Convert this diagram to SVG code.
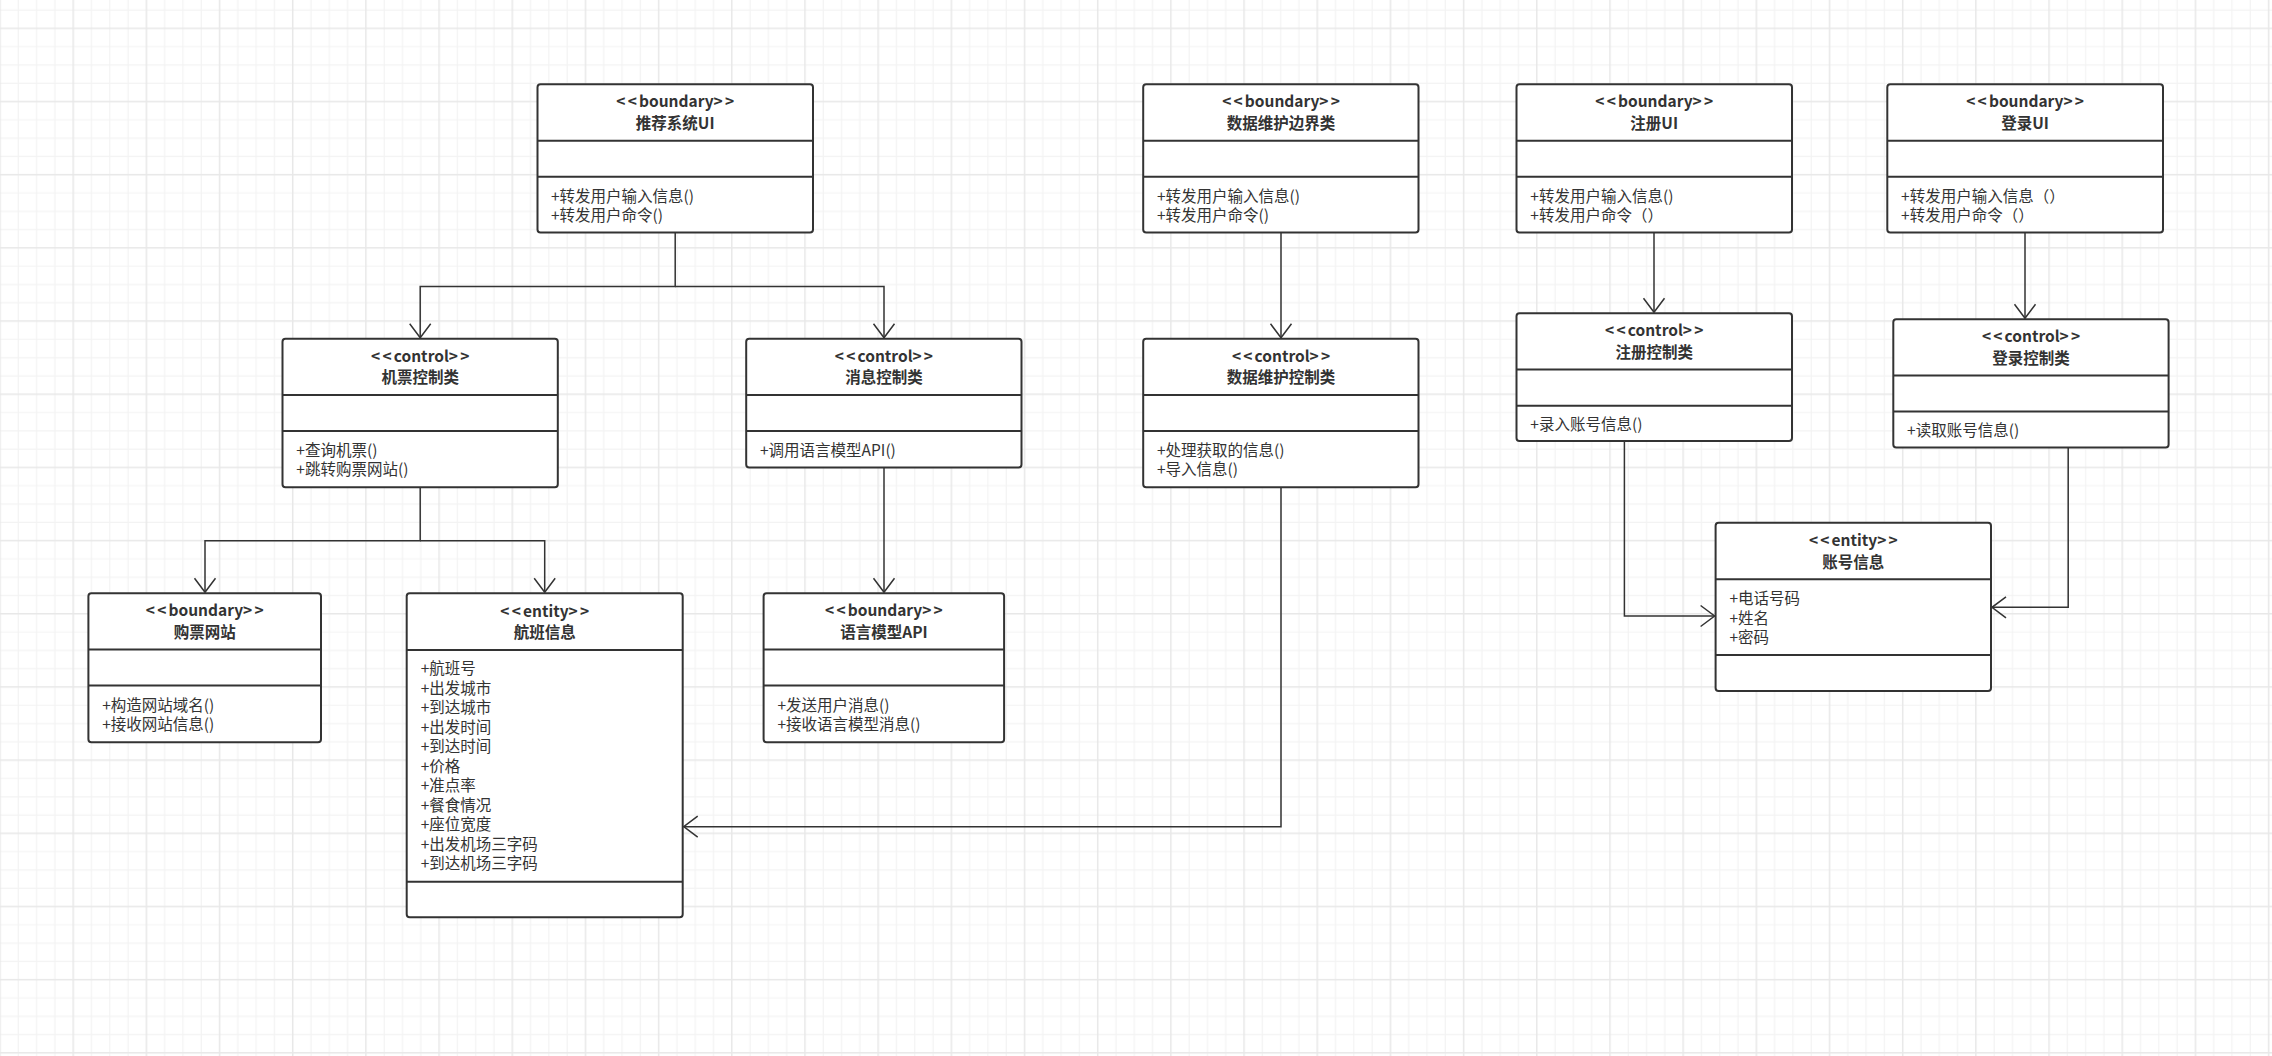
<svg xmlns="http://www.w3.org/2000/svg" width="2272" height="1056" viewBox="0 0 2272 1056">
<defs>
<pattern id="grid" width="73.18" height="73.18" patternUnits="userSpaceOnUse" x="-0.75" y="27.55">
<path d="M19.05,0V73.18M37.35,0V73.18M55.65,0V73.18M0,19.05H73.18M0,37.35H73.18M0,55.65H73.18" stroke="#f3f3f3" stroke-width="1.2" fill="none"/>
<path d="M0.75,0V73.18M0,0.75H73.18" stroke="#e8e8e8" stroke-width="1.5" fill="none"/>
</pattern>
<marker id="open" viewBox="0 0 16 24" refX="15" refY="12" markerWidth="16" markerHeight="24" markerUnits="userSpaceOnUse" orient="auto">
<path d="M1,1.5L15,12L1,22.5" fill="none" stroke="#333" stroke-width="1.5"/>
</marker>
</defs>
<style>
.box{fill:#fff;stroke:#333;stroke-width:2}
.div{stroke:#333;stroke-width:2}
.conn{fill:none;stroke:#333;stroke-width:1.5}
.arr{marker-end:url(#open)}
text{font-family:"Noto Sans CJK SC","Microsoft YaHei",sans-serif;font-size:15.5px;fill:#333}
.st{font-weight:700;text-anchor:middle}
.br{letter-spacing:2.2px}
</style>
<rect width="2272" height="1056" fill="#fff"/>
<rect width="2272" height="1056" fill="url(#grid)"/>

<g id="connectors">
<path class="conn arr" d="M675.2,232.5V286.5H420.2V337.8"/>
<path class="conn arr" d="M675.2,286.5H884V337.8"/>
<path class="conn arr" d="M420.2,487.3V540.8H205V592.3"/>
<path class="conn arr" d="M420.2,540.8H544.7V592.3"/>
<path class="conn arr" d="M884,467.4V592.3"/>
<path class="conn arr" d="M1281,232.5V337.8"/>
<path class="conn arr" d="M1281,487.3V826.7H683.7"/>
<path class="conn arr" d="M1654,232.5V312.3"/>
<path class="conn arr" d="M2025,232.5V318.3"/>
<path class="conn arr" d="M1624.4,441V616H1714.6"/>
<path class="conn arr" d="M2068.2,447.5V607.3H1992"/>
</g>

<g id="n-recommend-ui">
<rect class="box" x="537.5" y="84.3" width="275.5" height="148.2" rx="3"/>
<line class="div" x1="537.5" y1="140.7" x2="813" y2="140.7"/>
<line class="div" x1="537.5" y1="176.7" x2="813" y2="176.7"/>
<text class="st" x="676.3" y="107.3"><tspan class="br">&lt;&lt;</tspan>boundary<tspan class="br">&gt;&gt;</tspan></text>
<text class="st" x="675.2" y="128.8">推荐系统UI</text>
<text x="551" y="201.5">+转发用户输入信息()</text>
<text x="551" y="220.5">+转发用户命令()</text>
</g>

<g id="n-data-ui">
<rect class="box" x="1143.2" y="84.3" width="275.3" height="148.2" rx="3"/>
<line class="div" x1="1143.2" y1="140.7" x2="1418.5" y2="140.7"/>
<line class="div" x1="1143.2" y1="176.7" x2="1418.5" y2="176.7"/>
<text class="st" x="1282.1" y="107.3"><tspan class="br">&lt;&lt;</tspan>boundary<tspan class="br">&gt;&gt;</tspan></text>
<text class="st" x="1281" y="128.8">数据维护边界类</text>
<text x="1157" y="201.5">+转发用户输入信息()</text>
<text x="1157" y="220.5">+转发用户命令()</text>
</g>

<g id="n-register-ui">
<rect class="box" x="1516.5" y="84.3" width="275.5" height="148.2" rx="3"/>
<line class="div" x1="1516.5" y1="140.7" x2="1792" y2="140.7"/>
<line class="div" x1="1516.5" y1="176.7" x2="1792" y2="176.7"/>
<text class="st" x="1655.3" y="107.3"><tspan class="br">&lt;&lt;</tspan>boundary<tspan class="br">&gt;&gt;</tspan></text>
<text class="st" x="1654.2" y="128.8">注册UI</text>
<text x="1530.3" y="201.5">+转发用户输入信息()</text>
<text x="1530.3" y="220.5">+转发用户命令（）</text>
</g>

<g id="n-login-ui">
<rect class="box" x="1887.3" y="84.3" width="275.7" height="148.2" rx="3"/>
<line class="div" x1="1887.3" y1="140.7" x2="2163" y2="140.7"/>
<line class="div" x1="1887.3" y1="176.7" x2="2163" y2="176.7"/>
<text class="st" x="2026.2" y="107.3"><tspan class="br">&lt;&lt;</tspan>boundary<tspan class="br">&gt;&gt;</tspan></text>
<text class="st" x="2025.1" y="128.8">登录UI</text>
<text x="1901.1" y="201.5">+转发用户输入信息（）</text>
<text x="1901.1" y="220.5">+转发用户命令（）</text>
</g>

<g id="n-ticket-ctrl">
<rect class="box" x="282.5" y="338.8" width="275.3" height="148.5" rx="3"/>
<line class="div" x1="282.5" y1="395" x2="557.8" y2="395"/>
<line class="div" x1="282.5" y1="431" x2="557.8" y2="431"/>
<text class="st" x="421.3" y="361.8"><tspan class="br">&lt;&lt;</tspan>control<tspan class="br">&gt;&gt;</tspan></text>
<text class="st" x="420.2" y="383.3">机票控制类</text>
<text x="296.3" y="455.8">+查询机票()</text>
<text x="296.3" y="474.8">+跳转购票网站()</text>
</g>

<g id="n-msg-ctrl">
<rect class="box" x="746.2" y="338.8" width="275.3" height="128.6" rx="3"/>
<line class="div" x1="746.2" y1="395" x2="1021.5" y2="395"/>
<line class="div" x1="746.2" y1="431" x2="1021.5" y2="431"/>
<text class="st" x="885" y="361.8"><tspan class="br">&lt;&lt;</tspan>control<tspan class="br">&gt;&gt;</tspan></text>
<text class="st" x="883.9" y="383.3">消息控制类</text>
<text x="760" y="455.8">+调用语言模型API()</text>
</g>

<g id="n-data-ctrl">
<rect class="box" x="1143.2" y="338.8" width="275.3" height="148.5" rx="3"/>
<line class="div" x1="1143.2" y1="395" x2="1418.5" y2="395"/>
<line class="div" x1="1143.2" y1="431" x2="1418.5" y2="431"/>
<text class="st" x="1282.1" y="361.8"><tspan class="br">&lt;&lt;</tspan>control<tspan class="br">&gt;&gt;</tspan></text>
<text class="st" x="1281" y="383.3">数据维护控制类</text>
<text x="1157" y="455.8">+处理获取的信息()</text>
<text x="1157" y="474.8">+导入信息()</text>
</g>

<g id="n-register-ctrl">
<rect class="box" x="1516.5" y="313.3" width="275.5" height="127.7" rx="3"/>
<line class="div" x1="1516.5" y1="369.5" x2="1792" y2="369.5"/>
<line class="div" x1="1516.5" y1="405.7" x2="1792" y2="405.7"/>
<text class="st" x="1655.3" y="336.3"><tspan class="br">&lt;&lt;</tspan>control<tspan class="br">&gt;&gt;</tspan></text>
<text class="st" x="1654.2" y="357.8">注册控制类</text>
<text x="1530.3" y="430.3">+录入账号信息()</text>
</g>

<g id="n-login-ctrl">
<rect class="box" x="1893.3" y="319.3" width="275.3" height="128.2" rx="3"/>
<line class="div" x1="1893.3" y1="375.5" x2="2168.6" y2="375.5"/>
<line class="div" x1="1893.3" y1="411.6" x2="2168.6" y2="411.6"/>
<text class="st" x="2032.1" y="342.3"><tspan class="br">&lt;&lt;</tspan>control<tspan class="br">&gt;&gt;</tspan></text>
<text class="st" x="2031" y="363.8">登录控制类</text>
<text x="1907.1" y="436.3">+读取账号信息()</text>
</g>

<g id="n-ticket-site">
<rect class="box" x="88.4" y="593.3" width="232.6" height="148.9" rx="3"/>
<line class="div" x1="88.4" y1="649.5" x2="321" y2="649.5"/>
<line class="div" x1="88.4" y1="685.5" x2="321" y2="685.5"/>
<text class="st" x="205.8" y="616.3"><tspan class="br">&lt;&lt;</tspan>boundary<tspan class="br">&gt;&gt;</tspan></text>
<text class="st" x="204.7" y="637.8">购票网站</text>
<text x="102.2" y="710.6">+构造网站域名()</text>
<text x="102.2" y="729.8">+接收网站信息()</text>
</g>

<g id="n-flight-info">
<rect class="box" x="406.7" y="593.3" width="276" height="324" rx="3"/>
<line class="div" x1="406.7" y1="650" x2="682.7" y2="650"/>
<line class="div" x1="406.7" y1="881.7" x2="682.7" y2="881.7"/>
<text class="st" x="545.8" y="616.6"><tspan class="br">&lt;&lt;</tspan>entity<tspan class="br">&gt;&gt;</tspan></text>
<text class="st" x="544.7" y="638.1">航班信息</text>
<text x="420.7" y="674.3">+航班号</text>
<text x="420.7" y="693.8">+出发城市</text>
<text x="420.7" y="713.3">+到达城市</text>
<text x="420.7" y="732.8">+出发时间</text>
<text x="420.7" y="752.3">+到达时间</text>
<text x="420.7" y="771.8">+价格</text>
<text x="420.7" y="791.3">+准点率</text>
<text x="420.7" y="810.8">+餐食情况</text>
<text x="420.7" y="830.3">+座位宽度</text>
<text x="420.7" y="849.8">+出发机场三字码</text>
<text x="420.7" y="869.3">+到达机场三字码</text>
</g>

<g id="n-llm-api">
<rect class="box" x="763.6" y="593.3" width="240.5" height="148.9" rx="3"/>
<line class="div" x1="763.6" y1="649.5" x2="1004.1" y2="649.5"/>
<line class="div" x1="763.6" y1="685.5" x2="1004.1" y2="685.5"/>
<text class="st" x="885" y="616.3"><tspan class="br">&lt;&lt;</tspan>boundary<tspan class="br">&gt;&gt;</tspan></text>
<text class="st" x="883.9" y="637.8">语言模型API</text>
<text x="777.4" y="710.6">+发送用户消息()</text>
<text x="777.4" y="729.8">+接收语言模型消息()</text>
</g>

<g id="n-account-info">
<rect class="box" x="1715.6" y="522.7" width="275.4" height="168.3" rx="3"/>
<line class="div" x1="1715.6" y1="579.3" x2="1991" y2="579.3"/>
<line class="div" x1="1715.6" y1="655" x2="1991" y2="655"/>
<text class="st" x="1854.4" y="546"><tspan class="br">&lt;&lt;</tspan>entity<tspan class="br">&gt;&gt;</tspan></text>
<text class="st" x="1853.3" y="567.5">账号信息</text>
<text x="1729.5" y="604">+电话号码</text>
<text x="1729.5" y="623.5">+姓名</text>
<text x="1729.5" y="643">+密码</text>
</g>
</svg>
